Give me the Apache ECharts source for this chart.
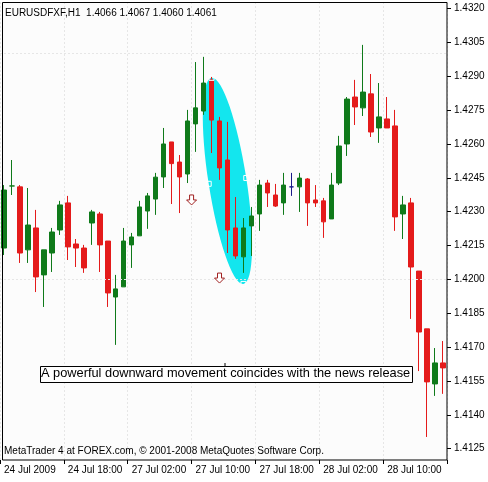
<!DOCTYPE html>
<html><head><meta charset="utf-8">
<script src="https://cdn.jsdelivr.net/npm/echarts@6/dist/echarts.min.js"></script>
<style>html,body{margin:0;padding:0;background:#fff}#c{width:488px;height:482px}</style>
</head><body><div id="c"></div>
<script>
// [open, close, low, high]
const candles = [
[1.42138,1.42395,1.42107,1.42417],[1.42413,1.42413,1.42373,1.42528],[1.42409,1.42116,1.42072,1.42417],
[1.42130,1.42240,1.42072,1.42404],[1.42227,1.42010,1.41943,1.42307],[1.42019,1.42130,1.41877,1.42130],
[1.42116,1.42209,1.42032,1.42227],[1.42218,1.42329,1.42196,1.42347],[1.42338,1.42143,1.42085,1.42369],
[1.42156,1.42138,1.42054,1.42178],[1.42138,1.42050,1.42028,1.42152],[1.42249,1.42298,1.42152,1.42307],
[1.42289,1.42152,1.42032,1.42298],[1.42169,1.41939,1.41877,1.42169],[1.41921,1.41957,1.41709,1.42019],
[1.41966,1.42169,1.41966,1.42227],[1.42152,1.42187,1.42050,1.42205],[1.42192,1.42320,1.42192,1.42347],
[1.42302,1.42369,1.42223,1.42382],[1.42355,1.42452,1.42285,1.42471],[1.42453,1.42599,1.42404,1.42670],
[1.42608,1.42512,1.42333,1.42608],[1.42519,1.42453,1.42293,1.42550],[1.42466,1.42701,1.42426,1.42750],
[1.42688,1.42759,1.42564,1.42962],[1.42745,1.42869,1.42728,1.42985],[1.42883,1.42705,1.42559,1.42896],
[1.42701,1.42493,1.42440,1.42719],[1.42528,1.42218,1.42116,1.42697],[1.42227,1.42103,1.42090,1.42364],
[1.42099,1.42227,1.42028,1.42271],[1.42236,1.42280,1.42103,1.42320],[1.42289,1.42417,1.42214,1.42440],
[1.42426,1.42382,1.42320,1.42440],[1.42373,1.42324,1.42320,1.42422],[1.42338,1.42417,1.42285,1.42471],
[1.42409,1.42409,1.42369,1.42471],[1.42409,1.42448,1.42298,1.42471],[1.42444,1.42338,1.42236,1.42448],
[1.42351,1.42338,1.42320,1.42417],[1.42347,1.42254,1.42183,1.42360],[1.42267,1.42417,1.42267,1.42471],
[1.42426,1.42590,1.42417,1.42635],[1.42599,1.42798,1.42546,1.42807],[1.42807,1.42763,1.42683,1.42883],
[1.42759,1.42829,1.42723,1.43038],[1.42821,1.42652,1.42630,1.42909],[1.42670,1.42719,1.42604,1.42869],
[1.42710,1.42670,1.42670,1.42807],[1.42679,1.42276,1.42214,1.42750],[1.42289,1.42329,1.42178,1.42369],
[1.42338,1.42054,1.41824,1.42360],[1.42036,1.41766,1.41593,1.42036],[1.41780,1.41545,1.41301,1.41780],
[1.41536,1.41629,1.41483,1.41695],[1.41629,1.41607,1.41492,1.41726]
];
const timeLabels = ['24 Jul 2009','24 Jul 18:00','27 Jul 02:00','27 Jul 10:00','27 Jul 18:00','28 Jul 02:00','28 Jul 10:00'];
const priceTicks = [1.4320,1.4305,1.4290,1.4275,1.4260,1.4245,1.4230,1.4215,1.4200,1.4185,1.4170,1.4155,1.4140,1.4125];
const dojiIndex = [36];
const ellipseEnds = [[26,1.42892],[30,1.41979]];
const arrows = [[23.5,1.42351],[27,1.42005]];
const titleText = 'EURUSDFXF,H1  1.4066 1.4067 1.4060 1.4061';
const noteText = 'A powerful downward movement coincides with the news release';
const footText = 'MetaTrader 4 at FOREX.com, © 2001-2008 MetaQuotes Software Corp.';

const categories = candles.map((c,i)=> i%8===0 ? timeLabels[i/8] : 'b'+i);
const GREEN='#0f7a1a', RED='#e41b1b';
const data = candles.map((c,i)=> dojiIndex.includes(i) ? {value:c,itemStyle:{color:'#1a1a8a',borderColor:'#1a1a8a'}} : c);
const FONT='"Liberation Sans", Arial, sans-serif';

const chart = echarts.init(document.getElementById('c'));
chart.setOption({
  animation:false,
  backgroundColor:'#fff',
  grid:{left:-1,width:448,top:2,bottom:22,show:true,backgroundColor:'#fcfcfc',borderWidth:0},
  xAxis:{type:'category',data:categories,boundaryGap:true,
    axisLine:{show:false},
    axisTick:{show:true,interval:7,length:4,lineStyle:{color:'#000'}},
    axisLabel:{interval:7,align:'left',fontFamily:FONT,fontSize:10,color:'#000',margin:5,
      formatter:(v)=>v.startsWith('b')?'':v},
    splitLine:{show:true,interval:7,lineStyle:{color:'#e6e6e6',type:[2,2]}}},
  yAxis:{type:'value',min:1.41199,max:1.43228,position:'right',
    axisLine:{show:false},axisTick:{show:false},axisLabel:{show:false},splitLine:{show:false}},
  series:[{type:'candlestick',data:data,barWidth:5,z:3,
    itemStyle:{color:GREEN,color0:RED,borderColor:GREEN,borderColor0:RED,borderWidth:1},
    markLine:{silent:true,symbol:'none',animation:false,
      lineStyle:{color:'#e6e6e6',type:[2,2],width:1},
      label:{show:false},
      data:priceTicks.map(v=>({yAxis:v}))}}]
});

function draw(){
  const p1 = chart.convertToPixel({gridIndex:0},ellipseEnds[0]);
  const p2 = chart.convertToPixel({gridIndex:0},ellipseEnds[1]);
  const cx=(p1[0]+p2[0])/2, cy=(p1[1]+p2[1])/2;
  const dx=p2[0]-p1[0], dy=p2[1]-p1[1];
  const len=Math.sqrt(dx*dx+dy*dy);
  const ang=Math.atan2(dy,dx);
  const nx=-dy/len*19, ny=dx/len*19;
  const els=[
    {type:'rect',shape:{x:2.5,y:2.5,width:444.5,height:457.5},style:{fill:null,stroke:'#000',lineWidth:1},z:10},
    {type:'ellipse',x:cx,y:cy,rotation:-ang,shape:{cx:0,cy:0,rx:len/2,ry:19},style:{fill:'#13e6ee'},z:1},
  ];
  [[p1[0],p1[1]],[p2[0],p2[1]],[cx+nx,cy+ny],[cx-nx,cy-ny]].forEach(p=>{
    els.push({type:'rect',shape:{x:p[0]-2.5,y:p[1]-2.5,width:5,height:5},style:{fill:'none',stroke:'#fff',lineWidth:1},z:11});
  });
  arrows.forEach(a=>{
    const px=chart.convertToPixel({gridIndex:0},[Math.floor(a[0]),a[1]]);
    const x=px[0]+(a[0]%1)*8, y=px[1];
    els.push({type:'polygon',shape:{points:[[x-2,y-5],[x+2,y-5],[x+2,y],[x+5,y],[x,y+5],[x-5,y],[x-2,y]]},
      style:{fill:'#fff',stroke:'#a02020',lineWidth:1},z:11});
  });
  priceTicks.forEach(v=>{
    const y=Math.round(chart.convertToPixel({yAxisIndex:0},v))+0.5;
    els.push({type:'line',shape:{x1:447,y1:y,x2:451,y2:y},style:{stroke:'#000',lineWidth:1},z:12});
    els.push({type:'text',x:454,y:y,style:{text:v.toFixed(4),font:'10px '+FONT,fill:'#000',textVerticalAlign:'middle'},z:12});
  });
  els.push({type:'text',x:5,y:8,style:{text:titleText,font:'10px '+FONT,fill:'#000'},z:12});
  els.push({type:'rect',shape:{x:40.5,y:366.5,width:372,height:16},style:{fill:'#fff',stroke:'#000',lineWidth:1},z:12});
  els.push({type:'line',shape:{x1:225,y1:363,x2:225,y2:366},style:{stroke:'#000',lineWidth:1},z:12});
  els.push({type:'text',x:41,y:367,style:{text:noteText,font:'12.8px '+FONT,fill:'#000'},z:13});
  els.push({type:'text',x:4,y:446,style:{text:footText,font:'10px '+FONT,fill:'#000'},z:12});
  chart.setOption({graphic:{elements:els}});
}
draw();
</script></body></html>
